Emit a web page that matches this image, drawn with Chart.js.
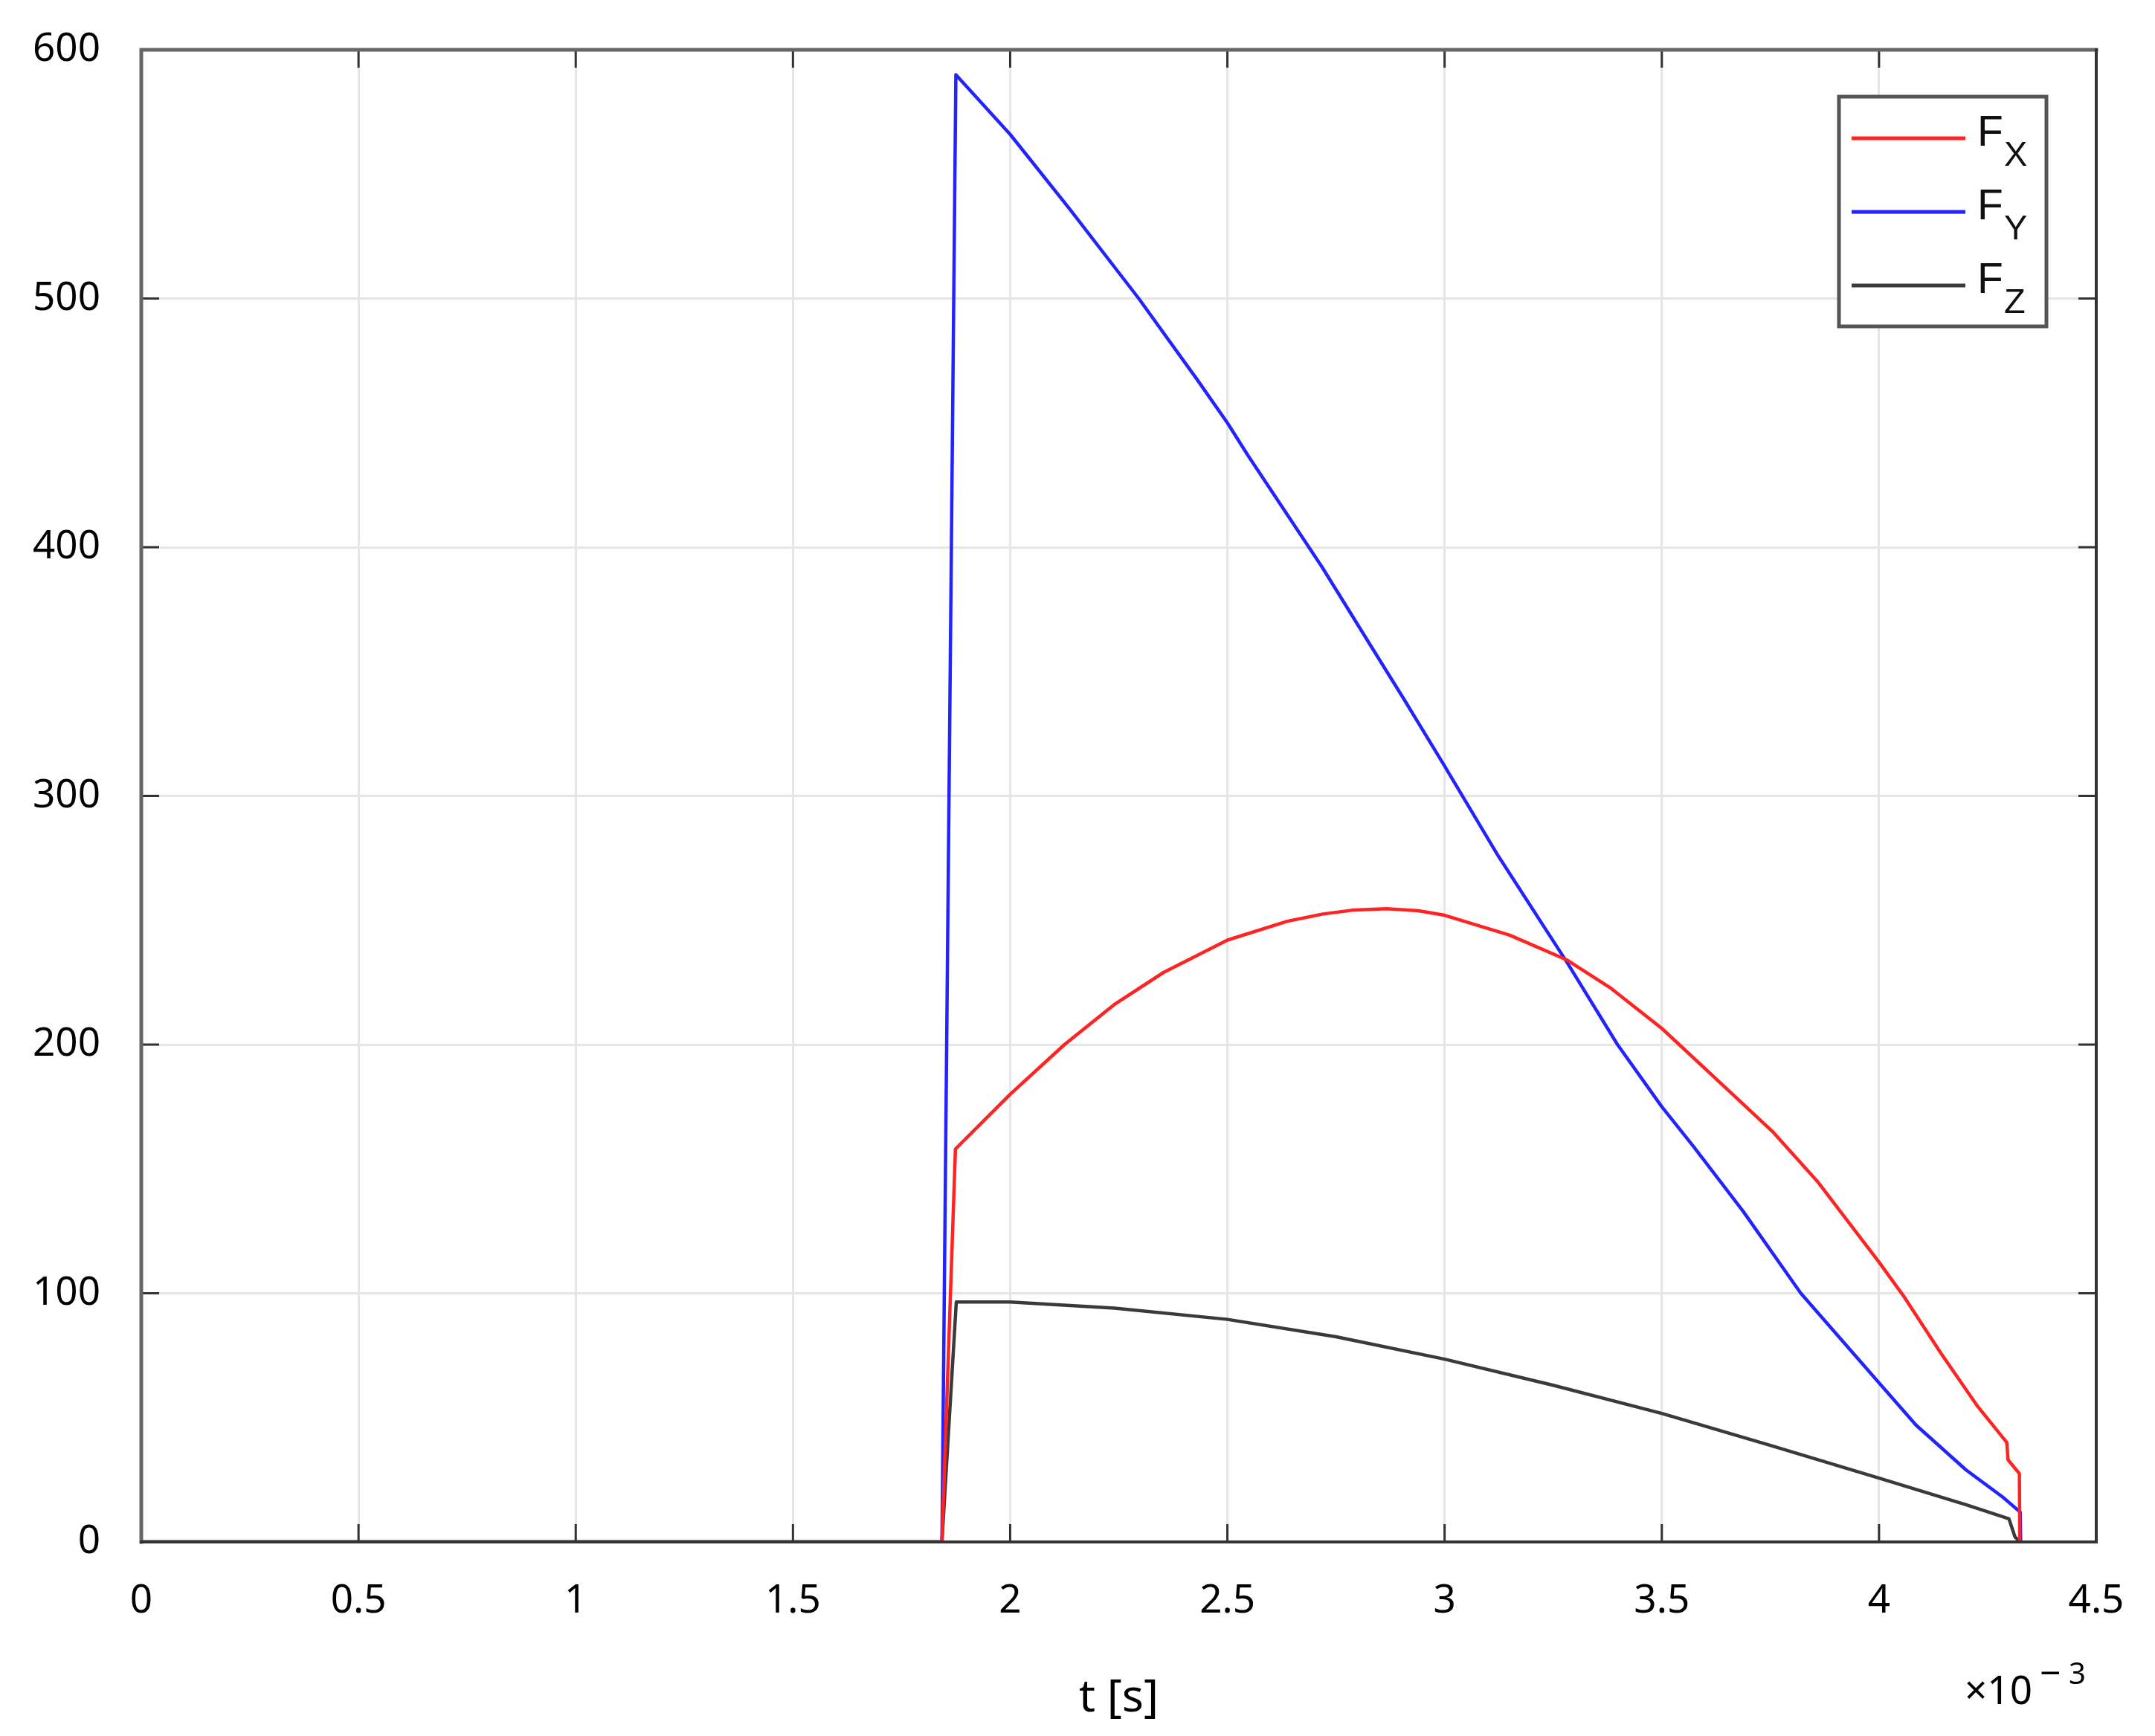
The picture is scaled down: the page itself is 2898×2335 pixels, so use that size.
<!DOCTYPE html>
<html>
<head>
<meta charset="utf-8">
<script src="https://cdn.jsdelivr.net/npm/chart.js@4.4.1/dist/chart.umd.min.js"></script>
<style>
  html, body { margin: 0; padding: 0; background: #fff; }
  canvas { display: block; }
</style>
</head>
<body>
<canvas id="forceChart" width="2898" height="2335"></canvas>
<script>
// time in 10^-3 s, force values
const xTicks = [0, 0.5, 1, 1.5, 2, 2.5, 3, 3.5, 4, 4.5];
const yTicks = [0, 100, 200, 300, 400, 500, 600];

const seriesNames = ["F_X", "F_Y", "F_Z"];
const seriesColors = ["rgb(255,35,35)", "rgb(35,35,255)", "#3a3a3a"];

const fxTime = [0, 1.843, 1.874, 2.0, 2.125, 2.239, 2.353, 2.5, 2.638, 2.72, 2.786, 2.866, 2.94, 3.0, 3.15, 3.282, 3.38, 3.5, 3.663, 3.755, 3.858, 4.0, 4.056, 4.142, 4.227, 4.294, 4.297, 4.323, 4.324];
const fxForce = [0, 0, 158, 180, 200, 216, 229, 242, 249.6, 252.5, 254, 254.6, 253.8, 252, 244, 234, 223, 206.5, 180, 165, 145, 112.5, 99, 76, 54.5, 40, 33, 27.5, 0];

const fyTime = [0, 1.843, 1.875, 2.0, 2.137, 2.296, 2.432, 2.5, 2.547, 2.718, 2.826, 2.906, 3.0, 3.123, 3.282, 3.398, 3.5, 3.573, 3.687, 3.82, 4.0, 4.085, 4.2, 4.285, 4.325, 4.326];
const fyForce = [0, 0, 590, 566, 536, 500, 467, 450, 437, 392, 361.5, 339, 312, 276, 233, 200, 175, 159, 133, 100, 64, 47, 29, 18, 12, 0];

const fzTime = [0, 1.843, 1.876, 2.0, 2.24, 2.5, 2.75, 3.0, 3.25, 3.5, 3.75, 4.0, 4.2, 4.294, 4.299, 4.313, 4.325];
const fzForce = [0, 0, 96.5, 96.5, 94, 89.5, 82.5, 73.5, 63, 51.7, 38.8, 25.7, 15, 9.6, 9.3, 2, 0];

const toPoints = (ts, vs) => ts.map((t, i) => ({ x: t, y: vs[i] }));
const series = [toPoints(fxTime, fxForce), toPoints(fyTime, fyForce), toPoints(fzTime, fzForce)];

// box, inward ticks on all four sides, exponent label
const frame = {
  id: "frame",
  afterDraw(chart) {
    const { ctx, chartArea: a, scales: { x, y } } = chart;
    ctx.save();
    ctx.strokeStyle = "#333";
    ctx.lineWidth = 3;
    ctx.beginPath();
    x.ticks.forEach(t => {
      const px = x.getPixelForValue(t.value);
      ctx.moveTo(px, a.bottom); ctx.lineTo(px, a.bottom - 24);
      ctx.moveTo(px, a.top); ctx.lineTo(px, a.top + 24);
    });
    y.ticks.forEach(t => {
      const py = y.getPixelForValue(t.value);
      ctx.moveTo(a.left, py); ctx.lineTo(a.left + 24, py);
      ctx.moveTo(a.right, py); ctx.lineTo(a.right - 24, py);
    });
    ctx.stroke();

    ctx.lineCap = "square";
    ctx.strokeStyle = "#666";
    ctx.lineWidth = 5;
    ctx.beginPath();
    ctx.moveTo(a.left, a.bottom); ctx.lineTo(a.left, a.top); ctx.lineTo(a.right, a.top);
    ctx.stroke();
    ctx.strokeStyle = "#333";
    ctx.lineWidth = 4;
    ctx.beginPath();
    ctx.moveTo(a.left, a.bottom); ctx.lineTo(a.right, a.bottom); ctx.lineTo(a.right, a.top);
    ctx.stroke();

    ctx.fillStyle = "#000";
    ctx.textBaseline = "alphabetic";
    ctx.textAlign = "left";
    ctx.font = "53px 'Noto Sans'";
    ctx.fillText("×10", a.right - 177, 2292);
    ctx.font = "50px 'Noto Sans'";
    ctx.fillText("−", a.right - 76, 2268);
    ctx.font = "40px 'Noto Sans'";
    ctx.fillText("3", a.right - 37, 2265);
    ctx.restore();
  }
};

// legend box with subscripts, top right inside the axes
const subLegend = {
  id: "subLegend",
  afterDraw(chart) {
    const { ctx, chartArea: a } = chart;
    const left = a.right - 346, top = 130, w = 279, h = 309;
    ctx.save();
    ctx.fillStyle = "#fff";
    ctx.fillRect(left, top, w, h);
    ctx.strokeStyle = "#555";
    ctx.lineWidth = 5;
    ctx.strokeRect(left, top, w, h);
    chart.data.datasets.forEach((ds, i) => {
      const ly = 186 + i * 99;
      ctx.strokeStyle = ds.borderColor;
      ctx.lineWidth = 5;
      ctx.beginPath();
      ctx.moveTo(left + 17, ly);
      ctx.lineTo(left + 170, ly);
      ctx.stroke();
      const [main, sub] = ds.label.split("_");
      ctx.fillStyle = "#111";
      ctx.textAlign = "left";
      ctx.textBaseline = "alphabetic";
      ctx.font = "57px 'Liberation Sans'";
      ctx.fillText(main, left + 186, ly + 10);
      ctx.font = "47px 'Liberation Sans'";
      ctx.fillText(sub, left + 222, ly + 37);
    });
    ctx.restore();
  }
};

new Chart(document.getElementById("forceChart").getContext("2d"), {
  type: "line",
  data: {
    datasets: series.map((pts, i) => ({
      label: seriesNames[i],
      data: pts,
      borderColor: seriesColors[i],
      borderWidth: 4.5,
      borderJoinStyle: "round",
      pointRadius: 0,
      tension: 0,
      fill: false
    }))
  },
  options: {
    responsive: false,
    animation: false,
    devicePixelRatio: 1,
    layout: { padding: { top: 67, right: 79, left: 0, bottom: 0 } },
    plugins: {
      legend: { display: false },
      tooltip: { enabled: false }
    },
    scales: {
      x: {
        type: "linear",
        min: 0,
        max: 4.5,
        afterBuildTicks: s => { s.ticks = xTicks.map(v => ({ value: v })); },
        afterFit: s => { s.height = 261; s.paddingLeft = 0; s.paddingRight = 0; },
        grid: { color: "#e6e6e6", lineWidth: 3, drawTicks: false },
        border: { display: false },
        ticks: {
          padding: 48,
          color: "#000",
          font: { family: "'Noto Sans'", size: 53 },
          maxRotation: 0,
          callback: v => String(Number(v.toFixed(1)))
        },
        title: {
          display: true,
          text: "t [s]",
          color: "#000",
          font: { family: "'Noto Sans'", size: 61 },
          padding: { bottom: 14 }
        }
      },
      y: {
        min: 0,
        max: 600,
        afterBuildTicks: s => { s.ticks = yTicks.map(v => ({ value: v })); },
        afterFit: s => { s.width = 190; s.paddingTop = 0; s.paddingBottom = 0; },
        grid: { color: "#e6e6e6", lineWidth: 3, drawTicks: false },
        border: { display: false },
        ticks: {
          padding: 55,
          color: "#000",
          font: { family: "'Noto Sans'", size: 53 }
        }
      }
    }
  },
  plugins: [frame, subLegend]
});
</script>
</body>
</html>
